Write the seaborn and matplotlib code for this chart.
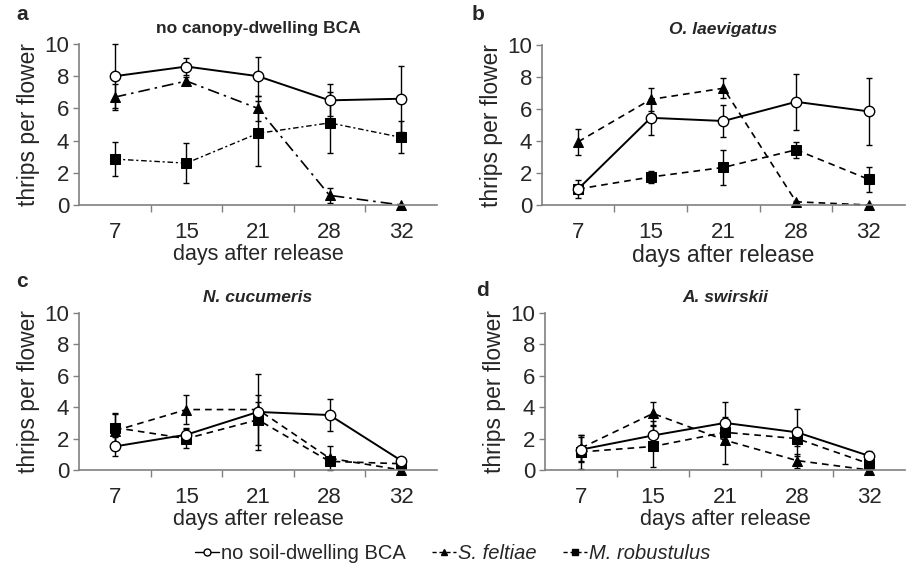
import numpy as np
import pandas as pd
import matplotlib
matplotlib.use('Agg')
import matplotlib.pyplot as plt
import seaborn as sns
from matplotlib.lines import Line2D
from matplotlib.ticker import FixedLocator, FixedFormatter, NullFormatter

# days after release (categorical x)
days = ['7', '15', '21', '28', '32']

# panel a: no canopy-dwelling BCA
a_none = [8.0, 8.6, 8.0, 6.5, 6.6]
a_none_err = [2.0, 0.55, 1.2, 1.0, 2.05]
a_sf = [6.7, 7.7, 6.0, 0.6, 0.0]
a_sf_err = [0.8, 0.25, 0.8, 0.45, 0.0]
a_mr = [2.85, 2.6, 4.45, 5.1, 4.2]
a_mr_err = [1.05, 1.25, 2.0, 1.9, 1.0]

# panel b: O. laevigatus
b_none = [1.0, 5.45, 5.25, 6.45, 5.85]
b_none_err = [0.55, 1.05, 1.0, 1.75, 2.1]
b_sf = [3.95, 6.6, 7.3, 0.2, 0.0]
b_sf_err = [0.8, 0.72, 0.62, 0.05, 0.0]
b_mr = [1.0, 1.75, 2.35, 3.45, 1.6]
b_mr_err = [0.2, 0.38, 1.1, 0.5, 0.78]

# panel c: N. cucumeris
c_none = [1.5, 2.25, 3.7, 3.5, 0.6]
c_none_err = [0.6, 0.45, 2.4, 1.0, 0.1]
c_sf = [2.5, 3.85, 3.85, 0.75, 0.0]
c_sf_err = [1.05, 0.9, 0.5, 0.75, 0.0]
c_mr = [2.7, 2.0, 3.2, 0.55, 0.4]
c_mr_err = [0.9, 0.6, 1.6, 0.2, 0.1]

# panel d: A. swirskii
d_none = [1.3, 2.2, 3.0, 2.4, 0.9]
d_none_err = [0.8, 0.9, 1.35, 1.5, 0.3]
d_sf = [1.4, 3.6, 1.9, 0.6, 0.0]
d_sf_err = [0.85, 0.75, 1.5, 0.45, 0.0]
d_mr = [1.15, 1.5, 2.4, 2.0, 0.4]
d_mr_err = [1.1, 1.3, 0.5, 0.5, 0.1]

titles = ['no canopy-dwelling BCA', 'O. laevigatus', 'N. cucumeris', 'A. swirskii']
letters = ['a', 'b', 'c', 'd']
series_names = ['no soil-dwelling BCA', 'S. feltiae', 'M. robustulus']

sns.set_style('white')
plt.rcParams['font.family'] = ['Liberation Sans', 'DejaVu Sans']

fig = plt.figure(figsize=(9.06, 5.72), dpi=100)
positions = [
    [0.0872, 0.6416, 0.3951, 0.2815],
    [0.598, 0.6416, 0.4010, 0.2797],
    [0.0872, 0.1783, 0.3951, 0.2745],
    [0.6015, 0.1783, 0.3975, 0.2745],
]
panels = [
    (a_none, a_none_err, a_sf, a_sf_err, a_mr, a_mr_err),
    (b_none, b_none_err, b_sf, b_sf_err, b_mr, b_mr_err),
    (c_none, c_none_err, c_sf, c_sf_err, c_mr, c_mr_err),
    (d_none, d_none_err, d_sf, d_sf_err, d_mr, d_mr_err),
]

grey = '#808080'
for i, (pos, data) in enumerate(zip(positions, panels)):
    ax = fig.add_axes(pos)
    none, none_err, sf, sf_err, mr, mr_err = data
    if i == 0:
        sf_ls = (0, (7, 3, 1.5, 3))
        mr_ls = (0, (4, 2, 1.5, 2))
    else:
        sf_ls = (0, (4, 3))
        mr_ls = (0, (4, 3))

    sns.lineplot(x=days, y=sf, ax=ax, color='black', sort=False, linestyle=sf_ls,
                 linewidth=1.2, marker='^', markersize=6.5, markeredgecolor='black',
                 markerfacecolor='black', zorder=2, clip_on=False)
    sns.lineplot(x=days, y=mr, ax=ax, color='black', sort=False, linestyle=mr_ls,
                 linewidth=1.2 if i else 1.0, marker='s', markersize=6.5,
                 markeredgecolor='black', markerfacecolor='black', zorder=2,
                 clip_on=False)
    sns.lineplot(x=days, y=none, ax=ax, color='black', sort=False, linestyle='-',
                 linewidth=1.4, marker='o', markersize=7.5, markeredgecolor='black',
                 markerfacecolor='white', markeredgewidth=1.0, zorder=3, clip_on=False)
    for y, e in [(sf, sf_err), (mr, mr_err), (none, none_err)]:
        ax.errorbar(days, y, yerr=e, fmt='none', ecolor='black', elinewidth=1.0,
                    capsize=2, capthick=1.0, zorder=1, clip_on=False)

    ax.set_xlim(-0.5, 4.5)
    ax.set_ylim(0, 10)
    ax.set_yticks([0, 2, 4, 6, 8, 10])
    ax.xaxis.set_major_locator(FixedLocator([0.5, 1.5, 2.5, 3.5]))
    ax.xaxis.set_major_formatter(NullFormatter())
    ax.xaxis.set_minor_locator(FixedLocator(range(len(days))))
    ax.xaxis.set_minor_formatter(FixedFormatter(days))
    ax.tick_params(axis='x', which='major', direction='out', length=5, width=1,
                   color=grey, bottom=True)
    ax.tick_params(axis='x', which='minor', length=0, labelsize=16, pad=12)
    ax.tick_params(axis='y', direction='out', length=4, width=1, color=grey,
                   left=True, labelsize=16, pad=3)
    for s in ['top', 'right']:
        ax.spines[s].set_visible(False)
    for s in ['left', 'bottom']:
        ax.spines[s].set_color(grey)
        ax.spines[s].set_linewidth(1.2)
    ax.set_xlabel('days after release', fontsize=16.5 if i == 1 else 15.5, labelpad=1)
    ax.set_ylabel('thrips per flower', fontsize=16.5, labelpad=3)
    ax.set_title(titles[i], fontsize=12.5, fontweight='bold',
                 fontstyle='normal' if i == 0 else 'italic', pad=8)

letter_xy = [(0.024, 0.975), (0.528, 0.975), (0.024, 0.508), (0.533, 0.492)]
for l, (x, y) in zip(letters, letter_xy):
    fig.text(x, y, l, fontsize=15, fontweight='bold', ha='center', va='center')

handles = [
    Line2D([], [], color='black', linestyle='-', linewidth=1.0, marker='o',
           markersize=5, markerfacecolor='white', markeredgecolor='black'),
    Line2D([], [], color='black', linestyle=(0, (3, 2)), linewidth=1.0, marker='^',
           markersize=5, markerfacecolor='black'),
    Line2D([], [], color='black', linestyle=(0, (3, 2)), linewidth=1.0, marker='s',
           markersize=5, markerfacecolor='black'),
]
leg = fig.legend(handles, series_names, loc='center', bbox_to_anchor=(0.5, 0.033),
                 ncol=3, frameon=False, fontsize=14.5, handlelength=1.2,
                 handletextpad=0.1, columnspacing=1.3)
leg.get_texts()[1].set_style('italic')
leg.get_texts()[2].set_style('italic')

fig.savefig('out.png', dpi=100)
